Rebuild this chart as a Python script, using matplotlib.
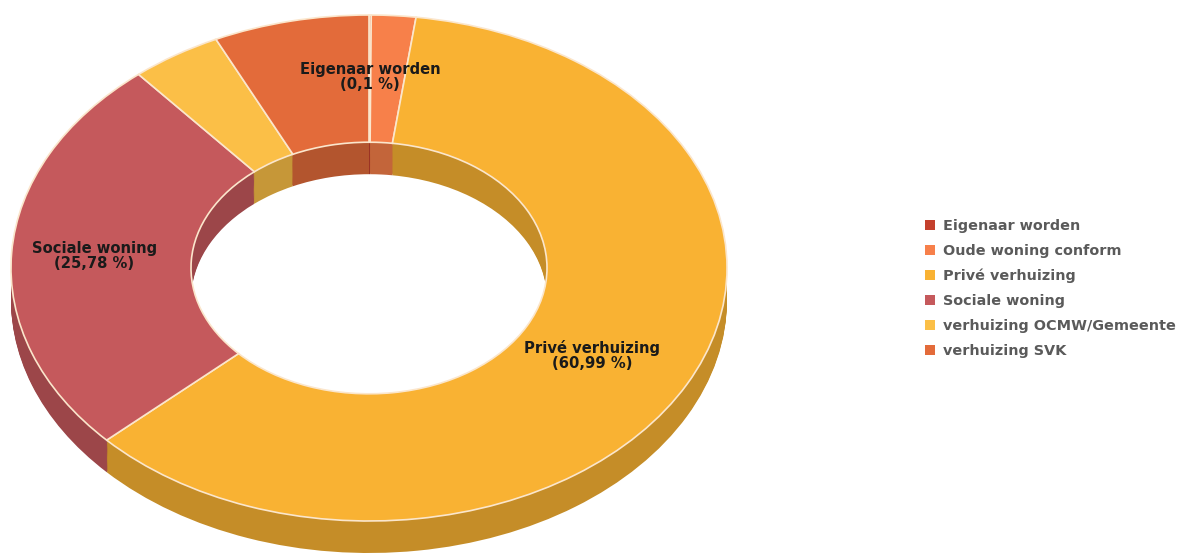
import numpy as np
import matplotlib.pyplot as plt
from matplotlib.patches import Patch
from matplotlib.colors import to_rgb

plt.rcParams["font.family"] = ["DejaVu Sans"]

# data
labels = ["Eigenaar worden", "Oude woning conform", "Privé verhuizing",
          "Sociale woning", "verhuizing OCMW/Gemeente", "verhuizing SVK"]
shares = [0.1, 2.0, 60.99, 25.78, 4.1, 7.03]
colors = ["#c4402d", "#f7804a", "#f9b233", "#c5595c", "#fbbf47", "#e36b3a"]
shown_labels = ["Eigenaar worden", "Privé verhuizing", "Sociale woning"]

W, H = 1182, 553
tilt = 0.7067          # vertical squash of the 3d view
cx, cy_px = 369, 268   # centre of the top face (pixels from top-left)
r_out, r_in = 358, 178
depth = 32 / tilt

cy = (H - cy_px) / tilt
dark = [tuple(c * 0.79 for c in to_rgb(col)) for col in colors]

fig = plt.figure(figsize=(W / 100, H / 100), dpi=100)
ax = fig.add_axes([0, 0, 1, 1])

# side walls: stacked copies of the ring shifted down
for k in np.arange(depth, 0, -1.5):
    ax.pie(shares, colors=dark, startangle=90, counterclock=False,
           radius=r_out, center=(cx, cy - k),
           wedgeprops=dict(width=r_out - r_in, edgecolor="none", linewidth=0))

# top face
wedges, _ = ax.pie(shares, colors=colors, startangle=90, counterclock=False,
                   radius=r_out, center=(cx, cy),
                   wedgeprops=dict(width=r_out - r_in, edgecolor="#fbe6cc",
                                   linewidth=1.2))

# data labels
cum = np.cumsum([0] + shares[:-1])
for name, start, val in zip(labels, cum, shares):
    if name not in shown_labels:
        continue
    theta = np.deg2rad((start + val / 2) / sum(shares) * 360)
    r_lab = 270
    x = cx + r_lab * np.sin(theta) * (0.93 if np.sin(theta) > 0.5 else 1.02)
    y = cy + r_lab * np.cos(theta)
    txt = f"{name}\n({val:g} %)".replace(".", ",")
    ax.text(x, y, txt, ha="center", va="center", fontsize=10.6,
            fontweight="bold", color="#1a1a1a", linespacing=1.0)

ax.set_aspect("auto")
ax.set_xlim(0, W)
ax.set_ylim(0, H / tilt)
ax.axis("off")

handles = [Patch(facecolor=c, edgecolor="none") for c in colors]
fig.legend(handles, labels, loc="upper left",
           bbox_to_anchor=(912 / W, 1 - 206 / H), frameon=False,
           labelcolor="#5a5a5a", prop=dict(weight="bold", size=10.4),
           handlelength=0.7, handleheight=0.7, handletextpad=0.55,
           labelspacing=0.75)

fig.savefig("out.png", dpi=100, facecolor="white")
